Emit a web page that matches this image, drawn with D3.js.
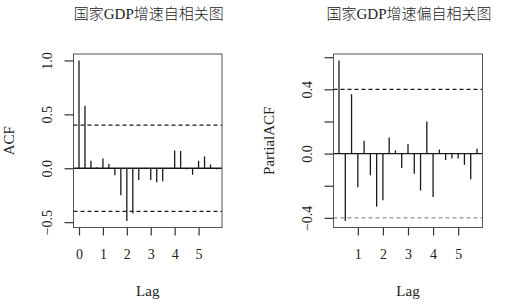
<!DOCTYPE html>
<html>
<head>
<meta charset="utf-8">
<script src="https://cdn.jsdelivr.net/npm/d3@7"></script>
<style>
  body { margin: 0; background: #fff; }
  text { font-family: "Liberation Serif", "Noto Sans CJK SC", serif; fill: #222; }
</style>
</head>
<body>
<svg width="520" height="304"></svg>
<script>
// lags are in years (quarterly series, so one bar every 0.25)
const acfLags = [0, 0.25, 0.5, 0.75, 1, 1.25, 1.5, 1.75, 2, 2.25, 2.5, 2.75,
                 3, 3.25, 3.5, 3.75, 4, 4.25, 4.5, 4.75, 5, 5.25, 5.5, 5.75];
const acfValues = [1.0, 0.58, 0.07, 0.01, 0.09, 0.04, -0.065, -0.25, -0.49, -0.42, -0.11, 0.004,
                   -0.11, -0.13, -0.12, -0.004, 0.165, 0.16, -0.01, -0.06, 0.07, 0.11, 0.035, -0.01];

const pacfLags = [0.25, 0.5, 0.75, 1, 1.25, 1.5, 1.75, 2, 2.25, 2.5, 2.75,
                  3, 3.25, 3.5, 3.75, 4, 4.25, 4.5, 4.75, 5, 5.25, 5.5, 5.75];
const pacfValues = [0.58, -0.42, 0.37, -0.21, 0.08, -0.135, -0.33, -0.29, 0.10, 0.02, -0.09,
                    0.06, -0.125, -0.23, 0.20, -0.27, 0.025, -0.04, -0.03, -0.03, -0.07, -0.16, 0.03];

const confLimit = 0.4;

const acfXTicks = [0, 1, 2, 3, 4, 5];
const acfYTicks = [-0.5, 0, 0.5, 1.0];
const pacfXTicks = [1, 2, 3, 4, 5];
const pacfYTicks = [-0.4, -0.2, 0, 0.2, 0.4, 0.6];
const pacfYLabelled = [-0.4, 0, 0.4];

const titles = ["国家GDP增速自相关图", "国家GDP增速偏自相关图"];
const yLabels = ["ACF", "PartialACF"];

const svg = d3.select("svg");

// R style range: extend the data range by 4% on each side
function rRange(vals) {
    const [lo, hi] = d3.extent(vals);
    const ext = (hi - lo) * 0.04;
    return [lo - ext, hi + ext];
}

function drawPanel(opts) {
    const { left, right, top, bottom, lags, values, xTicks, yTicks, yFmt, title, yLabel, lowDashColor } = opts;

    const x = d3.scaleLinear().domain(rRange(lags)).range([left, right]);
    const y = d3.scaleLinear()
        .domain(rRange(values.concat([confLimit, -confLimit])))
        .range([bottom, top]);

    const g = svg.append("g");

    // bars
    g.selectAll("line.bar")
        .data(lags.map((l, i) => ({ lag: l, v: values[i] })))
        .enter().append("line")
        .attr("class", "bar")
        .attr("x1", d => x(d.lag)).attr("x2", d => x(d.lag))
        .attr("y1", y(0)).attr("y2", d => y(d.v))
        .attr("stroke", "#1a1a1a")
        .attr("stroke-width", 1.3);

    // zero line
    g.append("line")
        .attr("x1", left).attr("x2", right)
        .attr("y1", y(0)).attr("y2", y(0))
        .attr("stroke", "#1a1a1a").attr("stroke-width", 1.3);

    // confidence bounds
    [confLimit, -confLimit].forEach((c, i) => {
        g.append("line")
            .attr("x1", left).attr("x2", right)
            .attr("y1", y(c)).attr("y2", y(c))
            .attr("stroke", i === 1 && lowDashColor ? lowDashColor : "#1a1a1a")
            .attr("stroke-width", i === 1 && lowDashColor ? 1 : 1.4)
            .attr("stroke-dasharray", "4,3");
    });

    // frame
    g.append("rect")
        .attr("x", left).attr("y", top)
        .attr("width", right - left).attr("height", bottom - top)
        .attr("fill", "none")
        .attr("stroke", "#555")
        .attr("stroke-width", 1);

    // axes
    const xAxis = g.append("g")
        .attr("transform", "translate(0," + bottom + ")")
        .call(d3.axisBottom(x).tickValues(xTicks).tickSize(8).tickPadding(14).tickFormat(d3.format("d")));
    xAxis.select(".domain").remove();
    xAxis.selectAll("line").attr("stroke", "#333").attr("stroke-width", 1.2);
    xAxis.selectAll("text").style("font-size", "14px").attr("fill", "#222")
        .style("font-family", "Liberation Serif");

    const yAxis = g.append("g")
        .attr("transform", "translate(" + left + ",0)")
        .call(d3.axisLeft(y).tickValues(yTicks).tickSize(9).tickFormat(yFmt));
    yAxis.select(".domain").remove();
    yAxis.selectAll("line").attr("stroke", "#333").attr("stroke-width", 1.2);
    // labels run along the axis, as R draws them
    yAxis.selectAll(".tick text")
        .style("font-size", "14px").attr("fill", "#222")
        .style("font-family", "Liberation Serif")
        .attr("x", 0).attr("y", 0)
        .attr("text-anchor", "middle")
        .attr("dy", "0.35em")
        .attr("transform", "translate(-26,0) rotate(-90)");

    // title
    g.append("text")
        .attr("x", (left + right) / 2 + 1)
        .attr("y", 19)
        .attr("text-anchor", "middle")
        .style("font-size", "15px")
        .attr("fill", "#333")
        .style("font-weight", 300)
        .text(title);

    // axis titles
    g.append("text")
        .attr("x", (left + right) / 2)
        .attr("y", 296)
        .attr("text-anchor", "middle")
        .style("font-size", "15px")
        .text("Lag");

    g.append("text")
        .attr("transform", "translate(" + (left - 60) + "," + ((top + bottom) / 2) + ") rotate(-90)")
        .attr("text-anchor", "middle")
        .style("font-size", "15px")
        .text(yLabel);
}

drawPanel({
    left: 73.5, right: 222, top: 54, bottom: 227.5,
    lags: acfLags, values: acfValues,
    xTicks: acfXTicks, yTicks: acfYTicks,
    yFmt: d3.format(".1f"),
    title: titles[0], yLabel: yLabels[0]
});

drawPanel({
    left: 333.5, right: 482.5, top: 54, bottom: 227.5,
    lags: pacfLags, values: pacfValues,
    xTicks: pacfXTicks, yTicks: pacfYTicks,
    yFmt: d => pacfYLabelled.some(v => Math.abs(v - d) < 1e-9) ? d3.format(".1f")(d) : "",
    title: titles[1], yLabel: yLabels[1],
    lowDashColor: "#777"
});
</script>
</body>
</html>
